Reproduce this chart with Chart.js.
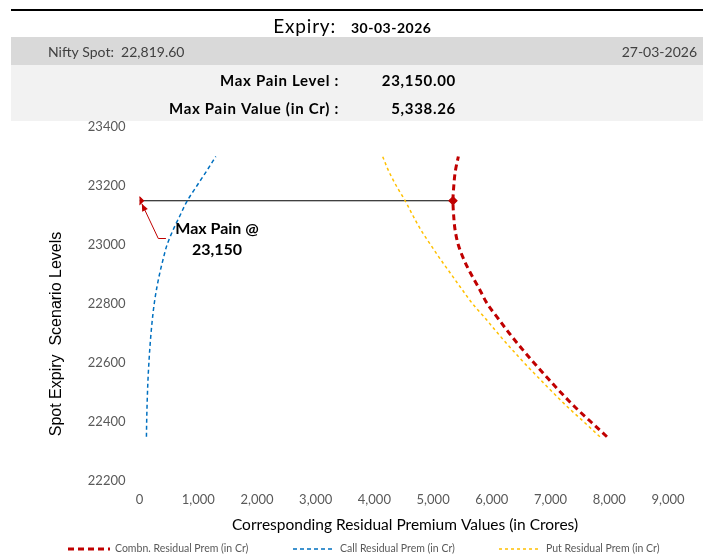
<!DOCTYPE html>
<html>
<head>
<meta charset="utf-8">
<script src="https://cdn.jsdelivr.net/npm/chart.js@4.4.1/dist/chart.umd.min.js"></script>
<style>
    body { margin: 0; background: #fff; }
    canvas { display: block; }
</style>
</head>
<body>
<canvas id="maxpain-chart" width="703" height="559"></canvas>
<script>
// strike levels (y) and residual premium values in Cr (x)
const strikes = [22350, 22400, 22450, 22500, 22550, 22600, 22650, 22700, 22750, 22800,
                 22850, 22900, 22950, 23000, 23050, 23100, 23150, 23200, 23250, 23300];
const combPrem = [7960, 7690, 7420, 7175, 6945, 6720, 6505, 6300, 6110, 5925,
                  5790, 5650, 5525, 5430, 5375, 5350, 5338.26, 5352, 5378, 5430];
const callPrem = [118, 122, 128, 136, 146, 160, 176, 196, 220, 250,
                  290, 340, 400, 468, 570, 690, 814, 975, 1140, 1300];
const putPrem = [7840, 7570, 7295, 7040, 6795, 6553, 6325, 6105, 5895, 5675,
                 5490, 5310, 5130, 4960, 4795, 4655, 4524, 4375, 4245, 4140];

const xTicks = [0, 1000, 2000, 3000, 4000, 5000, 6000, 7000, 8000, 9000];
const yTicks = [22200, 22400, 22600, 22800, 23000, 23200, 23400];

const expiryDate = '30-03-2026';
const reportDate = '27-03-2026';
const niftySpot = '22,819.60';
const maxPainLevel = 23150;
const maxPainValue = 5338.26;

// annotation anchors, in data units
const arrowTail = { x: 450, y: 23022 };
const arrowElbow = { x: 320, y: 23022 };
const arrowTip = { x: 40, y: 23140 };
const labelAt = { x: 1320, y1: 23054, y2: 22983 };

function toPoints(values) {
    return strikes.map(function (s, i) { return { x: values[i], y: s }; });
}

const headerPlugin = {
    id: 'header',
    beforeDraw: function (chart) {
        const ctx = chart.ctx;
        ctx.save();
        // top rule
        ctx.fillStyle = '#000';
        ctx.fillRect(11, 9, 692, 2);
        // bands
        ctx.fillStyle = '#d9d9d9';
        ctx.fillRect(11, 37, 692, 28);
        ctx.fillStyle = '#f2f2f2';
        ctx.fillRect(11, 65, 692, 56);

        ctx.textBaseline = 'middle';
        ctx.fillStyle = '#000';
        ctx.font = '19px Lato';
        ctx.textAlign = 'right';
        ctx.letterSpacing = '0.8px';
        ctx.fillText('Expiry:', 336, 27);
        ctx.font = 'bold 14px Lato';
        ctx.textAlign = 'left';
        ctx.letterSpacing = '0.5px';
        ctx.fillText(expiryDate, 351, 28);

        ctx.letterSpacing = '0px';
        ctx.font = '14px Lato';
        ctx.fillStyle = '#404040';
        ctx.fillText('Nifty Spot:  ' + niftySpot, 48, 52);
        ctx.textAlign = 'right';
        ctx.fillText(reportDate, 697, 52);

        ctx.fillStyle = '#000';
        ctx.font = 'bold 15px Lato';
        ctx.letterSpacing = '0.7px';
        ctx.fillText('Max Pain Level :', 339, 81);
        ctx.fillText('Max Pain Value (in Cr) :', 339, 109);
        ctx.fillText(maxPainLevel.toLocaleString('en-US', { minimumFractionDigits: 2 }), 456, 81);
        ctx.fillText(maxPainValue.toLocaleString('en-US', { minimumFractionDigits: 2 }), 456, 109);
        ctx.restore();
    },
    afterDraw: function (chart) {
        const ctx = chart.ctx;
        const xs = chart.scales.x;
        const ys = chart.scales.y;
        ctx.save();

        // axis titles
        ctx.fillStyle = '#000';
        ctx.textAlign = 'center';
        ctx.textBaseline = 'middle';
        ctx.font = '15.5px Lato';
        ctx.fillText('Corresponding Residual Premium Values (in Crores)', 405, 525);
        ctx.translate(57, 334);
        ctx.rotate(-Math.PI / 2);
        ctx.font = '16px "Liberation Sans"';
        ctx.fillText('Spot Expiry  Scenario Levels', 0, 0);
        ctx.setTransform(1, 0, 0, 1, 0, 0);

        // arrow
        const tx = xs.getPixelForValue(arrowTail.x), ty = ys.getPixelForValue(arrowTail.y);
        const ex = xs.getPixelForValue(arrowElbow.x), ey = ys.getPixelForValue(arrowElbow.y);
        const px = xs.getPixelForValue(arrowTip.x), py = ys.getPixelForValue(arrowTip.y);
        ctx.strokeStyle = '#c00000';
        ctx.fillStyle = '#c00000';
        ctx.lineWidth = 1;
        ctx.beginPath();
        ctx.moveTo(tx, ty);
        ctx.lineTo(ex, ey);
        ctx.lineTo(px, py);
        ctx.stroke();
        const ang = Math.atan2(py - ey, px - ex);
        ctx.beginPath();
        ctx.moveTo(px, py);
        ctx.lineTo(px - 8 * Math.cos(ang - 0.4), py - 8 * Math.sin(ang - 0.4));
        ctx.lineTo(px - 8 * Math.cos(ang + 0.4), py - 8 * Math.sin(ang + 0.4));
        ctx.closePath();
        ctx.fill();

        // label
        ctx.fillStyle = '#000';
        ctx.font = 'bold 16px Lato';
        const lx = xs.getPixelForValue(labelAt.x);
        ctx.fillText('Max Pain @', lx, ys.getPixelForValue(labelAt.y1));
        ctx.fillText(maxPainLevel.toLocaleString('en-US'), lx, ys.getPixelForValue(labelAt.y2));

        // legend
        const legendX = [68, 293, 499];
        ctx.font = '10.5px Lato';
        ctx.textAlign = 'left';
        chart.data.datasets.slice(0, 3).forEach(function (ds, i) {
            ctx.strokeStyle = ds.borderColor;
            ctx.lineWidth = ds.borderWidth;
            ctx.setLineDash(ds.borderDash);
            ctx.beginPath();
            ctx.moveTo(legendX[i], 549);
            ctx.lineTo(legendX[i] + 42, 549);
            ctx.stroke();
            ctx.setLineDash([]);
            ctx.fillStyle = '#595959';
            ctx.fillText(ds.label, legendX[i] + 47, 549);
        });
        ctx.restore();
    }
};

const tickFont = { family: 'Lato', size: 13 };

new Chart(document.getElementById('maxpain-chart'), {
    type: 'line',
    data: {
        datasets: [{
            label: 'Combn. Residual Prem (in Cr)',
            data: toPoints(combPrem),
            borderColor: '#c00000',
            borderWidth: 3,
            borderDash: [6, 4],
            pointRadius: 0
        }, {
            label: 'Call Residual Prem (in Cr)',
            data: toPoints(callPrem),
            borderColor: '#0070c0',
            borderWidth: 1.5,
            borderDash: [4, 3],
            pointRadius: 0
        }, {
            label: 'Put Residual Prem (in Cr)',
            data: toPoints(putPrem),
            borderColor: '#ffc000',
            borderWidth: 1.5,
            borderDash: [3, 3],
            pointRadius: 0
        }, {
            label: 'Max Pain',
            data: [{ x: 0, y: maxPainLevel }, { x: maxPainValue, y: maxPainLevel }],
            borderColor: '#000',
            borderWidth: 1.2,
            pointStyle: 'rectRot',
            pointRadius: 4,
            pointBackgroundColor: '#c00000',
            pointBorderColor: '#c00000'
        }]
    },
    options: {
        responsive: false,
        animation: false,
        indexAxis: 'y',
        cubicInterpolationMode: 'monotone',
        layout: { padding: { top: 127, right: 35, left: 0, bottom: 0 } },
        plugins: {
            legend: { display: false },
            tooltip: { enabled: false }
        },
        scales: {
            x: {
                type: 'linear',
                min: 0,
                max: 9000,
                afterBuildTicks: function (scale) {
                    scale.ticks = xTicks.map(function (v) { return { value: v }; });
                },
                afterFit: function (scale) { scale.height = 78; },
                grid: { display: false },
                border: { display: false },
                ticks: {
                    font: tickFont,
                    color: '#595959',
                    padding: 3,
                    maxRotation: 0,
                    callback: function (v) { return v.toLocaleString('en-US'); }
                }
            },
            y: {
                type: 'linear',
                min: 22200,
                max: 23400,
                afterBuildTicks: function (scale) {
                    scale.ticks = yTicks.map(function (v) { return { value: v }; });
                },
                afterFit: function (scale) { scale.width = 139.5; },
                grid: { display: false },
                border: { display: false },
                ticks: {
                    font: tickFont,
                    color: '#595959',
                    padding: 6,
                    callback: function (v) { return String(v); }
                }
            }
        }
    },
    plugins: [headerPlugin]
});
</script>
</body>
</html>
